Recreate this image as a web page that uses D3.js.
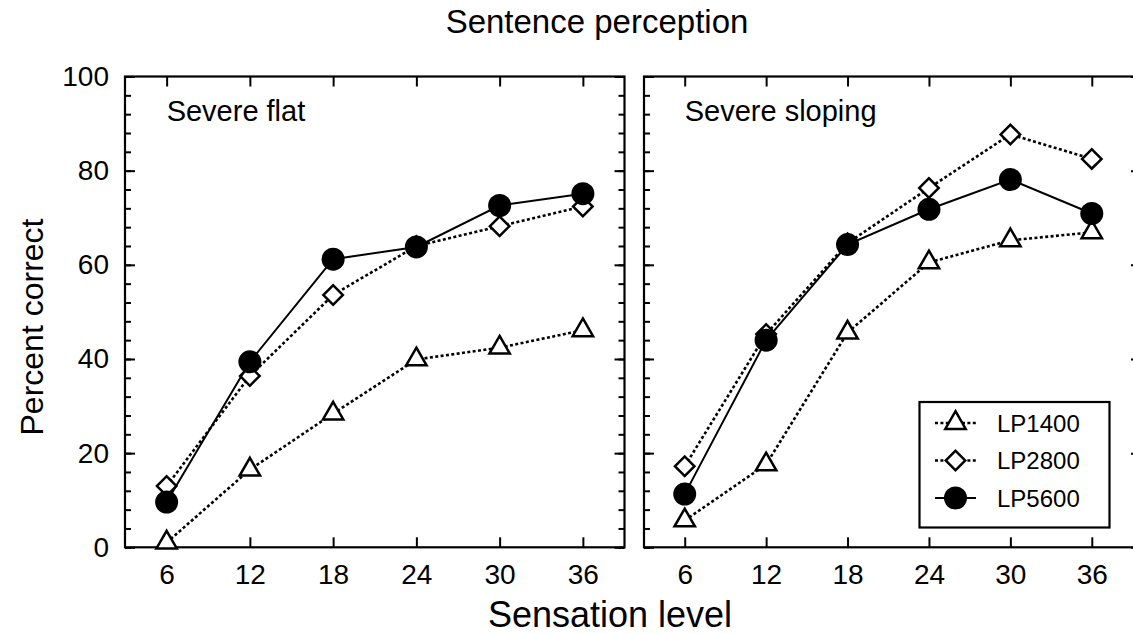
<!DOCTYPE html>
<html><head><meta charset="utf-8">
<script src="https://cdn.jsdelivr.net/npm/d3@7"></script>
<style>
html,body{margin:0;padding:0;background:#fff;}
svg text{font-family:"Liberation Sans",Arial,sans-serif;fill:#000;}
</style></head>
<body><svg id="c" width="1133" height="634"></svg>
<script>
// ---- data ----
const levels = [6, 12, 18, 24, 30, 36];
const seriesNames = ["LP1400", "LP2800", "LP5600"];
const panelNames = ["Severe flat", "Severe sloping"];
const flatLP1400 = [1.0, 16.5, 28.4, 39.9, 42.4, 46.1];
const flatLP2800 = [13.0, 36.4, 53.6, 64.0, 68.2, 72.4];
const flatLP5600 = [9.6, 39.4, 61.2, 63.8, 72.6, 75.1];
const slopLP1400 = [5.7, 17.6, 45.6, 60.5, 65.2, 66.9];
const slopLP2800 = [17.2, 45.3, 64.6, 76.3, 87.7, 82.5];
const slopLP5600 = [11.3, 44.0, 64.3, 71.8, 78.1, 70.9];
const yTicks = [0, 20, 40, 60, 80, 100];
const yMinor = d3.range(0, 101, 4);
const title = "Sentence perception";
const xTitle = "Sensation level";
const yTitle = "Percent correct";

// ---- layout ----
const svg = d3.select("#c");
const yTop = 76.5, yBot = 547.3;
const y = d3.scaleLinear().domain([0, 100]).range([yBot, yTop]);
const panels = [
  {name: panelNames[0], x0: 125, x1: 624.5, xr: [125, 624.5], data: [flatLP1400, flatLP2800, flatLP5600], labels: true},
  {name: panelNames[1], x0: 644, x1: 1141, xr: [644, 1132.5], data: [slopLP1400, slopLP2800, slopLP5600], labels: false}
];
const styles = [
  {shape: "tri", dash: "3,2.4", width: 2.6},
  {shape: "dia", dash: "3,2.4", width: 2.6},
  {shape: "circ", dash: null, width: 2}
];

function marker(g, shape, cx, cy) {
  if (shape === "tri") {
    g.append("path").attr("d", d3.symbol(d3.symbolTriangle, 180)())
      .attr("transform", `translate(${cx},${cy})`)
      .attr("fill", "#fff").attr("stroke", "#000").attr("stroke-width", 2.5);
  } else if (shape === "dia") {
    g.append("path").attr("d", d3.symbol(d3.symbolSquare, 190)())
      .attr("transform", `translate(${cx},${cy}) rotate(45)`)
      .attr("fill", "#fff").attr("stroke", "#000").attr("stroke-width", 2.5);
  } else {
    g.append("circle").attr("cx", cx).attr("cy", cy).attr("r", 11.5).attr("fill", "#000");
  }
}

panels.forEach(p => {
  const x = d3.scaleLinear().domain([3, 39]).range(p.xr);
  const g = svg.append("g");
  g.append("rect").attr("x", p.x0).attr("y", yTop).attr("width", p.x1 - p.x0).attr("height", yBot - yTop)
    .attr("fill", "none").attr("stroke", "#000").attr("stroke-width", 2.2);
  const axL = d3.axisLeft(y).tickValues(yTicks).tickSizeInner(-10).tickSizeOuter(0)
    .tickFormat(p.labels ? d3.format("d") : () => "").tickPadding(16);
  g.append("g").attr("transform", `translate(${p.x0},0)`).call(axL);
  const axLm = d3.axisLeft(y).tickValues(yMinor).tickSizeInner(-6).tickSizeOuter(0).tickFormat(() => "");
  g.append("g").attr("transform", `translate(${p.x0},0)`).call(axLm);
  const axR = d3.axisRight(y).tickValues(yTicks).tickSizeInner(-10).tickSizeOuter(0).tickFormat(() => "");
  g.append("g").attr("transform", `translate(${p.x1},0)`).call(axR);
  const axRm = d3.axisRight(y).tickValues(yMinor).tickSizeInner(-6).tickSizeOuter(0).tickFormat(() => "");
  g.append("g").attr("transform", `translate(${p.x1},0)`).call(axRm);
  const axB = d3.axisBottom(x).tickValues(levels).tickSizeInner(-10).tickSizeOuter(0).tickPadding(17);
  g.append("g").attr("transform", `translate(0,${yBot})`).call(axB);
  const axT = d3.axisTop(x).tickValues(levels).tickSizeInner(-10).tickSizeOuter(0).tickFormat(() => "");
  g.append("g").attr("transform", `translate(0,${yTop})`).call(axT);
  g.selectAll(".domain").remove();
  g.selectAll(".tick line").attr("stroke", "#000").attr("stroke-width", 2);
  g.selectAll(".tick text").attr("font-size", 28).attr("fill", "#000")
    .style("font-family", '"Liberation Sans",Arial,sans-serif');
  g.append("text").attr("x", x(6)).attr("y", 121).attr("font-size", 29).text(p.name);
  p.data.forEach((vals, i) => {
    const st = styles[i];
    const line = d3.line().x((d, j) => x(levels[j])).y(d => y(d));
    g.append("path").attr("d", line(vals)).attr("fill", "none").attr("stroke", "#000")
      .attr("stroke-width", st.width).attr("stroke-dasharray", st.dash);
    vals.forEach((v, j) => marker(g, st.shape, x(levels[j]), y(v)));
  });
});

// legend
const lg = svg.append("g");
lg.append("rect").attr("x", 919.5).attr("y", 402).attr("width", 190).attr("height", 125.5)
  .attr("fill", "#fff").attr("stroke", "#000").attr("stroke-width", 2.2);
seriesNames.forEach((n, i) => {
  const cy = 423 + i * 37.5;
  const st = styles[i];
  lg.append("line").attr("x1", 935).attr("x2", 976).attr("y1", cy).attr("y2", cy)
    .attr("stroke", "#000").attr("stroke-width", st.width).attr("stroke-dasharray", st.dash);
  marker(lg, st.shape, 955.5, cy);
  lg.append("text").attr("x", 997).attr("y", cy).attr("dy", "0.36em").attr("font-size", 24).text(n);
});

// titles
svg.append("text").attr("x", 597).attr("y", 33).attr("text-anchor", "middle").attr("font-size", 33).text(title);
svg.append("text").attr("x", 610).attr("y", 627).attr("text-anchor", "middle").attr("font-size", 36).text(xTitle);
svg.append("text").attr("transform", "translate(43,327) rotate(-90)").attr("text-anchor", "middle")
  .attr("font-size", 32).text(yTitle);
</script></body></html>
